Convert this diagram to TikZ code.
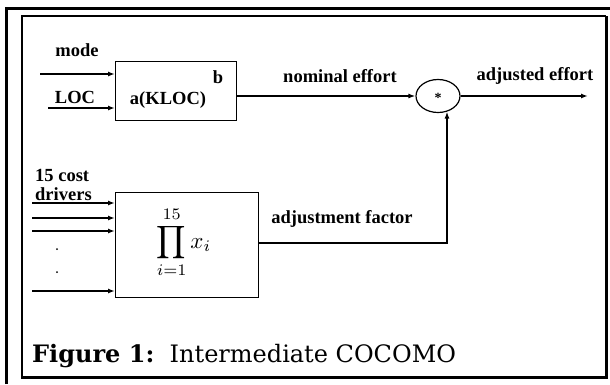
\documentclass[tikz,border=0pt]{standalone}
\usepackage{fontspec}
\setmainfont{Liberation Serif}
\newfontfamily\capfont{DejaVu Serif}
\usetikzlibrary{arrows.meta,shapes.geometric,calc}
\begin{document}
\begin{tikzpicture}[x=1pt,y=-1pt,
  lbl/.style={font=\fontsize{18.5}{20}\selectfont\bfseries, inner sep=0pt},
  blk/.style={draw, line width=1.3pt, anchor=north west, inner sep=0pt},
  arr/.style={line width=1.4pt, -{Latex[length=7pt,width=5pt]}},
  con/.style={line width=1.4pt}]
\useasboundingbox (0,0) rectangle (610,384);
% frames
\draw[line width=3pt] (6.5,384) -- (6.5,8) -- (610,8);
\draw[line width=1.5pt] (22,377) -- (22,16) -- (606,16);
\draw[line width=3pt] (606,16) -- (606,377) -- (21.25,377);
% blocks
\node[blk, minimum width=121pt, minimum height=59pt] (f1) at (115,61) {};
\node[blk, minimum width=143pt, minimum height=105pt] (f2) at (115,192) {};
\node[draw, ellipse, line width=1.2pt, minimum width=44pt, minimum height=33pt, inner sep=0pt] (mul) at (438,96) {};
\node[font=\fontsize{14}{14}\selectfont\bfseries, inner sep=0pt] (star) at (438,98) {*};
% texts in blocks
\node[lbl] (kloc) at (168,100) {a(KLOC)};
\node[lbl] (b) at (218,77) {b};
\node[inner sep=0pt] (prod) at (184,242) {\scalebox{2.3}{$\displaystyle\prod_{i=1}^{15} x_i$}};
% labels
\node[lbl] (mode) at (77,50) {mode};
\node[lbl] (loc) at (75,97) {LOC};
\node[lbl] (nom) at (340,76) {nominal effort};
\node[lbl] (adj) at (535,76) {adjusted effort};
\node[lbl] (fac) at (342,219) {adjustment factor};
\node[lbl, anchor=west] (cost) at (35,175) {15 cost};
\node[lbl, anchor=west] (drv) at (35,194) {drivers};
% inputs
\coordinate (m0) at (40,74);
\coordinate (l0) at (48,108);
\draw[arr] (m0) -- (m0 -| f1.west);
\draw[arr] (l0) -- (l0 -| f1.west);
\coordinate (c1) at (32,203);
\coordinate (c2) at (32,218);
\coordinate (c3) at (32,231);
\coordinate (c4) at (32,291);
\draw[arr] (c1) -- (c1 -| f2.west);
\draw[arr] (c2) -- (c2 -| f2.west);
\draw[arr] (c3) -- (c3 -| f2.west);
\draw[arr] (c4) -- (c4 -| f2.west);
\node[circle, fill, inner sep=0pt, minimum size=2pt] (d1) at (57,249) {};
\node[circle, fill, inner sep=0pt, minimum size=2pt] (d2) at (57,272) {};
% outputs
\draw[arr] (f1.east |- mul.west) -- (mul.west);
\coordinate (out) at (588,96);
\draw[arr] (mul.east) -- (out);
\coordinate (cr) at (447,243);
\draw[arr] (f2.east |- cr) -- (cr) -- ($(cr |- mul.south)+(0,-1.5)$);
% caption
\node[anchor=base west, inner sep=0pt, font=\capfont\fontsize{24}{28}\selectfont] (cap) at (32,362) {\textbf{Figure 1:}\ \ Intermediate COCOMO};
\end{tikzpicture}
\end{document}
